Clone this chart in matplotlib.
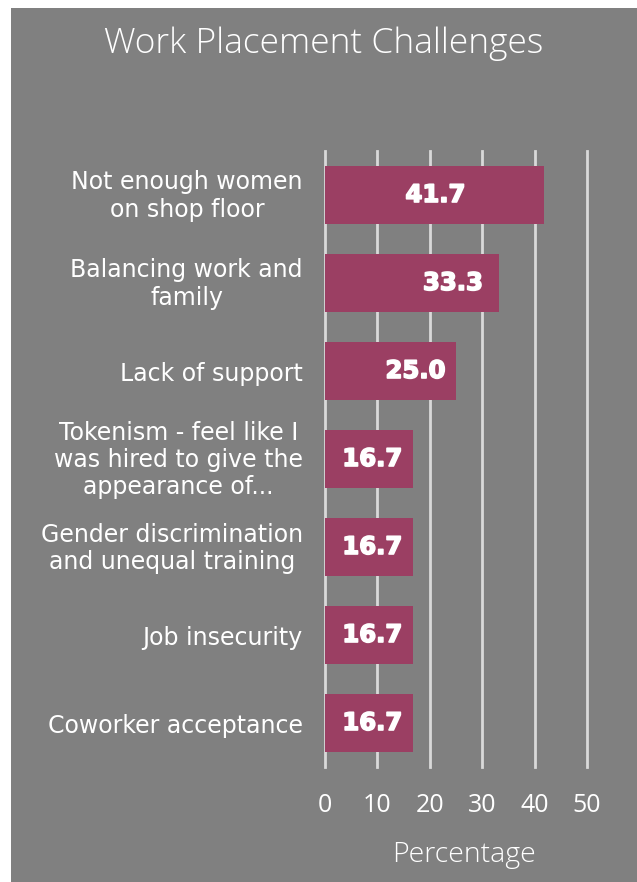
import matplotlib
matplotlib.use("Agg")
import matplotlib.pyplot as plt
import matplotlib.patheffects as pe
import matplotlib.transforms as mtransforms
from matplotlib.patches import Rectangle

# Data
categories = [
    "Not enough women\non shop floor",
    "Balancing work and\nfamily",
    "Lack of support",
    "Tokenism - feel like I\nwas hired to give the\nappearance of...",
    "Gender discrimination\nand unequal training",
    "Job insecurity",
    "Coworker acceptance",
]
percentages = [41.7, 33.3, 25.0, 16.7, 16.7, 16.7, 16.7]
x_ticks = [0, 10, 20, 30, 40, 50]

# Style
BG = "#808080"
BAR = "#9B3F63"
GRID = "#D9D9D9"
TXT = "#FFFFFF"
# horizontal placement of each value label, as a fraction of its bar
label_frac = [0.505, 0.733, 0.69, 0.54, 0.54, 0.54, 0.54]

W, H = 637, 882
fig = plt.figure(figsize=(W / 100, H / 100), dpi=100)
fig.patch.set_facecolor("white")
fig.add_artist(Rectangle((11 / W, 0), 1 - 11 / W, 1 - 8 / H,
                         transform=fig.transFigure, facecolor=BG,
                         edgecolor="none", zorder=-10))

ax = fig.add_axes([325 / W, 1 - 767 / H, (587 - 325) / W, (767 - 151) / H])
ax.set_facecolor("none")
for s in ax.spines.values():
    s.set_visible(False)

ypos = list(range(len(categories)))
ax.barh(ypos, percentages, height=0.66, color=BAR, zorder=3)
ax.set_ylim(len(categories) - 0.5, -0.5)
ax.set_xlim(0, 50)
ax.set_xticks(x_ticks)
ax.xaxis.grid(True, color=GRID, linewidth=2, zorder=0)
for gl in ax.get_xgridlines():
    gl.set_clip_on(False)
ax.set_axisbelow(True)

ax.set_yticks(ypos)
ax.set_yticklabels(categories, fontsize=17, color=TXT, family="DejaVu Sans",
                   multialignment="center", linespacing=1.17)
ax.tick_params(axis="y", length=0, pad=16)
# nudge wrapped labels up a little so their block sits centred on the bar
lift = mtransforms.ScaledTranslation(0, 3 / 100, fig.dpi_scale_trans)
for t in ax.get_yticklabels():
    if "\n" in t.get_text():
        t.set_transform(t.get_transform() + lift)
ax.tick_params(axis="x", length=0, pad=19, labelsize=18, labelcolor=TXT)
for t in ax.get_xticklabels():
    t.set_family("Open Sans")

for y, v, f in zip(ypos, percentages, label_frac):
    ax.text(v * f, y, f"{v:.1f}", ha="center", va="center", color=TXT,
            fontsize=17.5, fontweight="bold", family="DejaVu Sans", zorder=4,
            path_effects=[pe.withStroke(linewidth=1.2, foreground=TXT)])

ax.set_xlabel("Percentage", fontsize=20.5, color=TXT, family="Open Sans",
              fontweight="light")
ax.xaxis.set_label_coords((464 - 325) / (587 - 325), -(855 - 767) / (767 - 151))
ax.xaxis.label.set_va("center")

fig.text(324 / W, 1 - 44 / H, "Work Placement Challenges", ha="center",
         va="center", fontsize=25.5, color=TXT, family="Open Sans",
         fontweight="light")

fig.savefig("out.png", dpi=100, facecolor=fig.get_facecolor())
